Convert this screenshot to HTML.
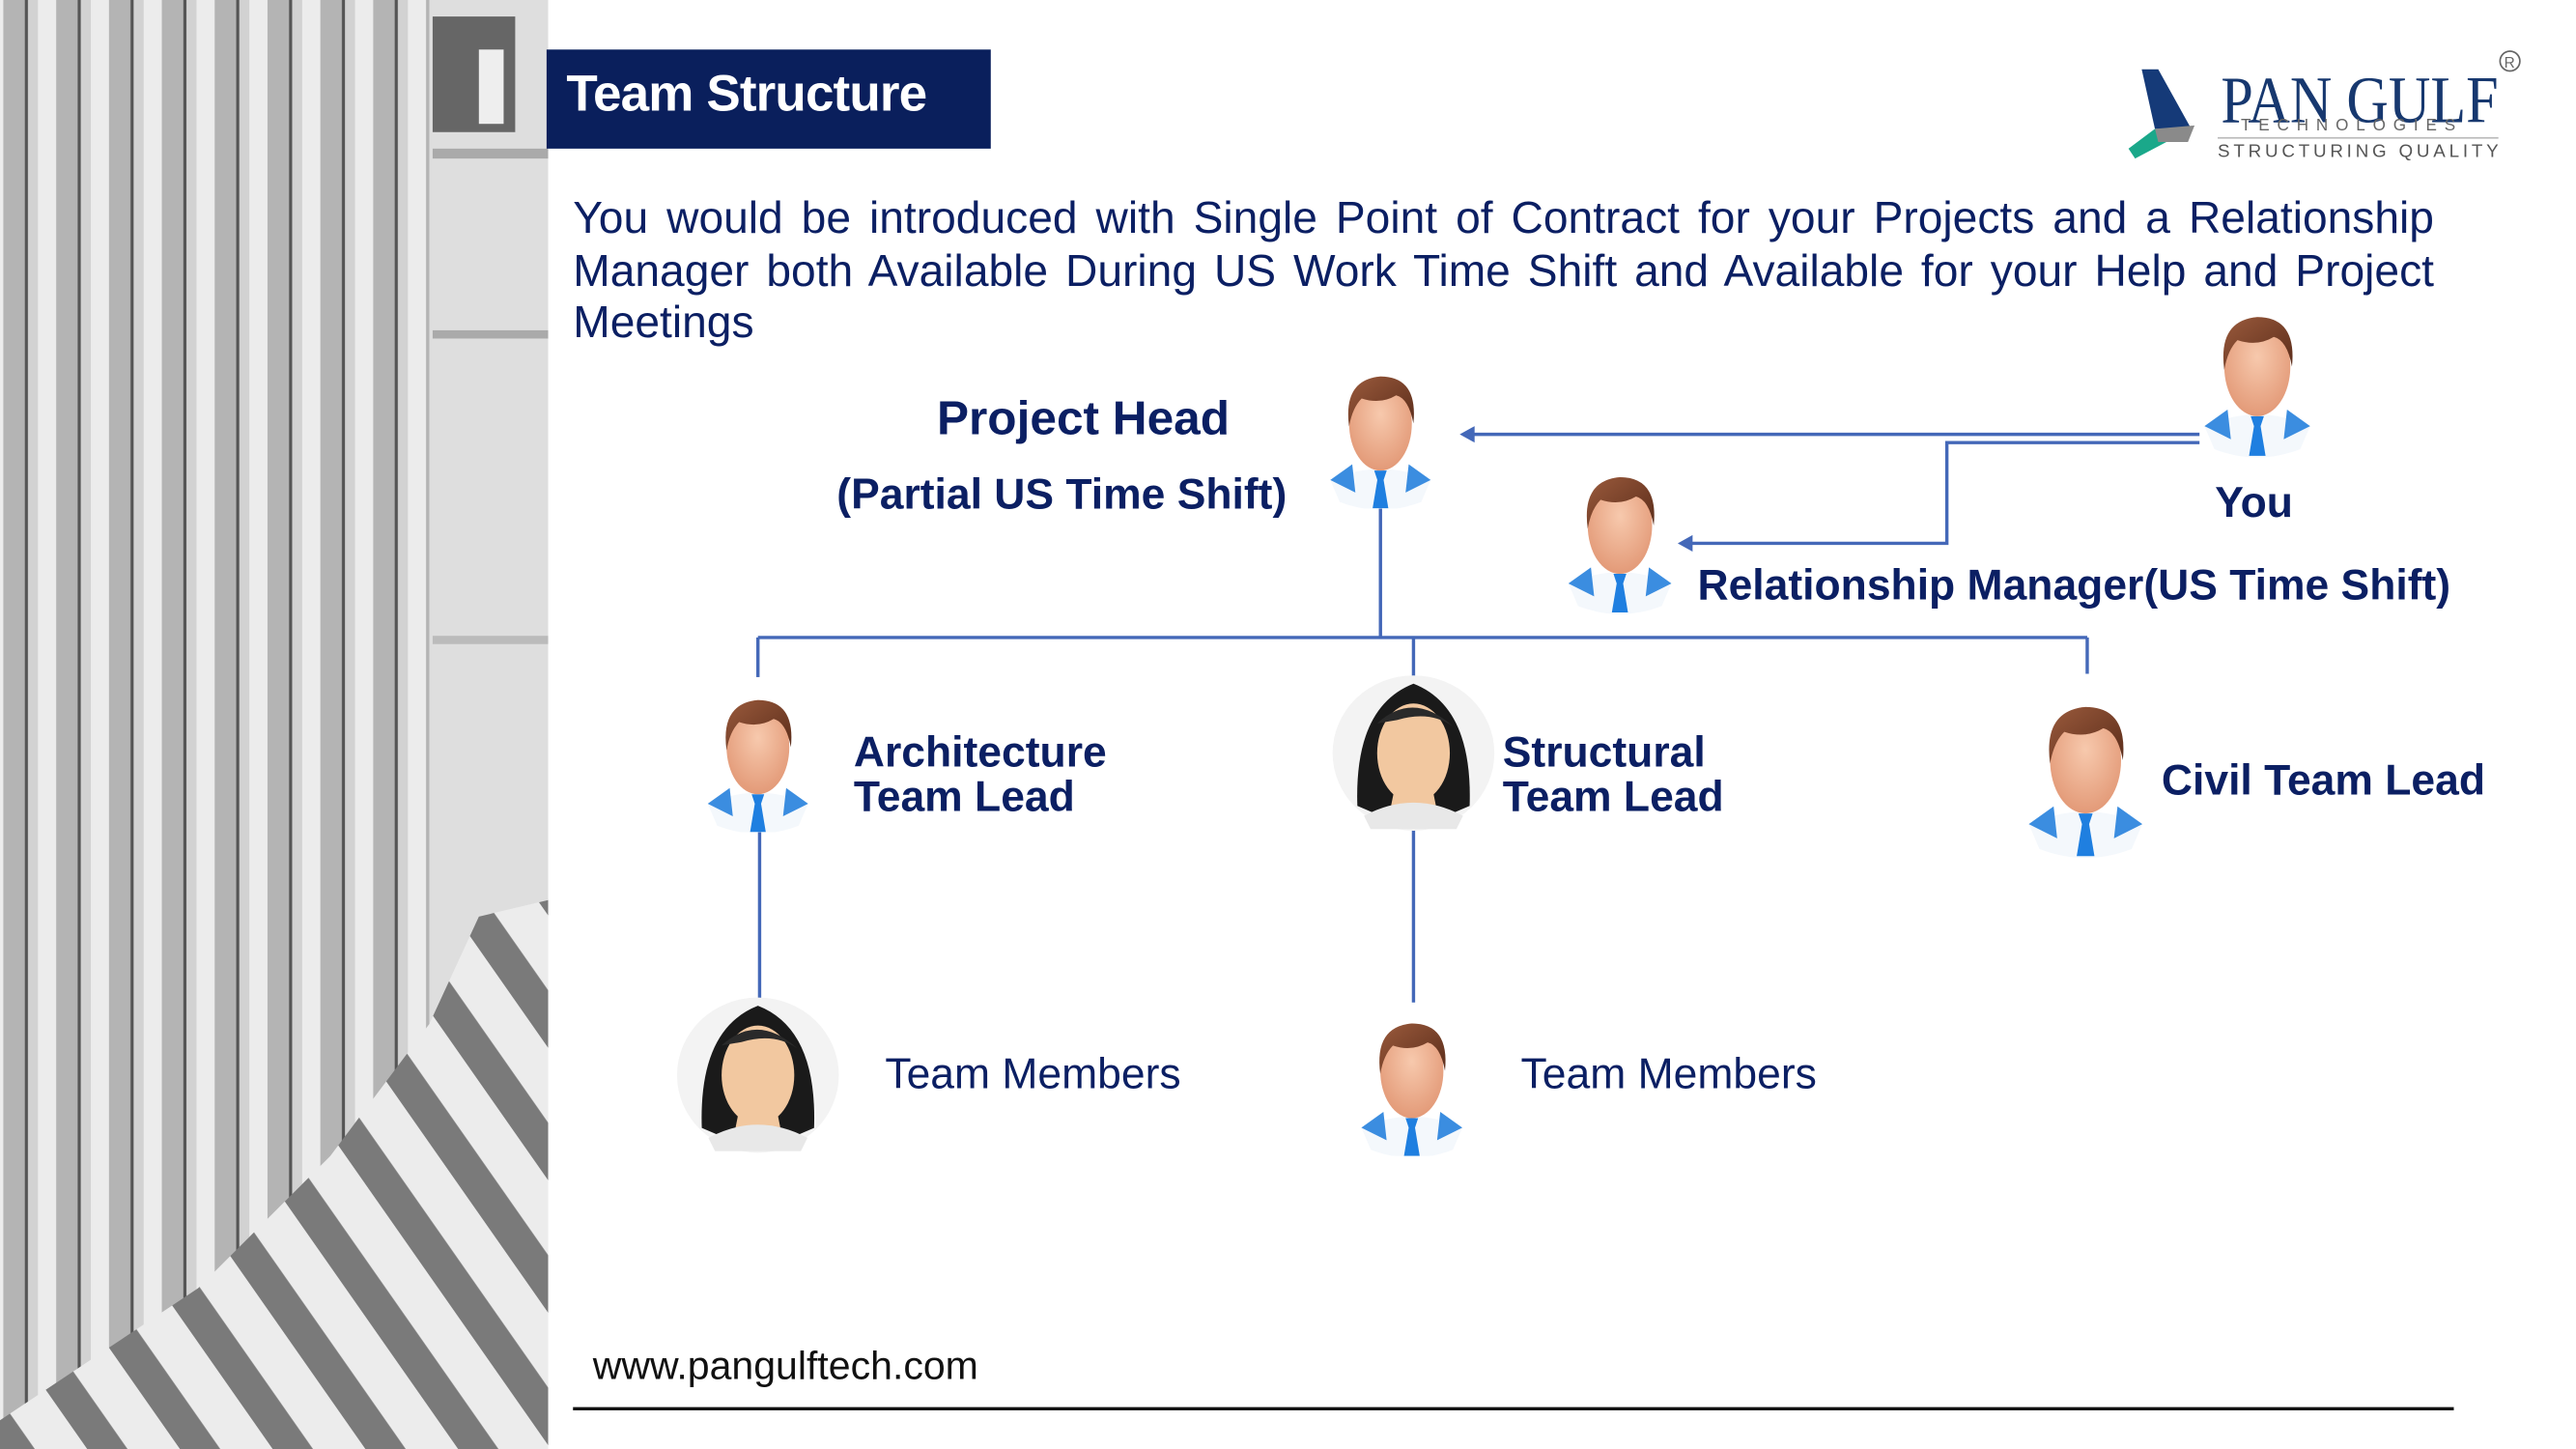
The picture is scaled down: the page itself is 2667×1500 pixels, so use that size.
<!DOCTYPE html>
<html><head><meta charset="utf-8"><style>
html,body{margin:0;padding:0;background:#fff;}
#wrap{width:2667px;height:1500px;overflow:hidden;position:relative;}
#s{width:1560px;height:877.4px;position:absolute;left:0;top:0;transform:scale(1.70962);transform-origin:0 0;font-family:"Liberation Sans",Arial,sans-serif;}
.a{position:absolute;}
.b{font-weight:bold;color:#0b1f63;}
.t{color:#0b1f63;}
</style></head><body><div id="wrap"><div id="s">
<svg class="a" style="left:0;top:0" width="332" height="878" viewBox="0 0 332 878">
<defs>
<linearGradient id="bg" x1="0" x2="1"><stop offset="0" stop-color="#f4f4f4"/><stop offset="1" stop-color="#d6d6d6"/></linearGradient>
<pattern id="vb" width="32" height="10" patternUnits="userSpaceOnUse">
<rect width="32" height="10" fill="#ececec"/><rect x="2" width="13" height="10" fill="#b4b4b4"/><rect x="15" width="2" height="10" fill="#555"/><rect x="17" width="6" height="10" fill="#d2d2d2"/>
</pattern>
<pattern id="st" width="46" height="46" patternUnits="userSpaceOnUse" patternTransform="rotate(-35)">
<rect width="46" height="46" fill="#ececec"/><rect width="20" height="46" fill="#7a7a7a"/>
</pattern>
</defs>
<rect width="332" height="878" fill="url(#bg)"/>
<rect x="0" y="0" width="260" height="878" fill="url(#vb)"/>
<rect x="260" y="0" width="72" height="878" fill="#dedede"/>
<rect x="262" y="10" width="50" height="70" fill="#666"/>
<rect x="290" y="30" width="15" height="45" fill="#eee"/>
<rect x="262" y="90" width="70" height="6" fill="#aaa"/>
<rect x="262" y="200" width="70" height="5" fill="#aaa"/>
<rect x="262" y="385" width="70" height="5" fill="#bbb"/>
<polygon points="0,860 120,780 200,700 260,620 290,555 332,545 332,878 0,878" fill="url(#st)"/>
</svg>

<div class="a" style="left:331px;top:30px;width:269px;height:60px;background:#0a1f5c;"></div>
<div class="a" style="left:343px;top:39px;color:#fff;font-weight:bold;font-size:31px;letter-spacing:-0.5px;">Team Structure</div>

<!-- logo -->
<svg class="a" style="left:1285px;top:28px" width="250" height="75" viewBox="0 0 250 75">
<polygon points="12,14 22,14 42,50 20,50" fill="#153a78"/>
<polygon points="20,50 42,50 8,68 4,62" fill="#1aa88a"/>
<polygon points="20,50 44,48 40,58 22,58" fill="#8a8a8a"/>
<text x="60" y="46" font-family="Liberation Serif,serif" font-size="40" fill="#17386f" textLength="168" lengthAdjust="spacingAndGlyphs">PAN GULF</text>
<text x="72" y="51" font-family="Liberation Sans,sans-serif" font-size="10" fill="#666" textLength="130" lengthAdjust="spacing">TECHNOLOGIES</text>
<rect x="58" y="55" width="170" height="1" fill="#bbb"/>
<text x="58" y="67" font-family="Liberation Sans,sans-serif" font-size="11" fill="#555" textLength="170" lengthAdjust="spacing">STRUCTURING QUALITY</text>
<circle cx="235" cy="9" r="6" fill="none" stroke="#666" stroke-width="1"/><text x="231.5" y="13" font-size="9" fill="#666" font-family="Liberation Sans">R</text>
</svg>

<div class="a t" style="left:347px;top:117px;width:1127px;font-size:27px;line-height:31.6px;text-align:justify;text-align-last:left;">You would be introduced with Single Point of Contract for your Projects and a Relationship Manager both Available During US Work Time Shift and Available for your Help and Project Meetings</div>

<!-- connectors -->
<svg class="a" style="left:0;top:0" width="1560" height="878" viewBox="0 0 1560 878">
<g stroke="#4468b8" stroke-width="2" fill="none">
<line x1="1332" y1="263" x2="890" y2="263"/>
<polyline points="1332,268 1179,268 1179,329 1022,329"/>
<line x1="836" y1="300" x2="836" y2="386"/>
<line x1="459" y1="386" x2="1264" y2="386"/>
<line x1="459" y1="386" x2="459" y2="410"/>
<line x1="856" y1="386" x2="856" y2="410"/>
<line x1="1264" y1="386" x2="1264" y2="408"/>
<line x1="460" y1="500" x2="460" y2="607"/>
<line x1="856" y1="500" x2="856" y2="607"/>
</g>
<polygon points="884,263 893,258 893,268" fill="#4468b8"/>
<polygon points="1016,329 1025,324 1025,334" fill="#4468b8"/>
<line x1="347" y1="853" x2="1486" y2="853" stroke="#111" stroke-width="2"/>
</svg>

<svg width="0" height="0" style="position:absolute"><defs>
<radialGradient id="sk" cx="0.5" cy="0.4" r="0.6"><stop offset="0" stop-color="#f7c9ad"/><stop offset="1" stop-color="#e39a78"/></radialGradient>
<linearGradient id="hr" x1="0" y1="0" x2="1" y2="1"><stop offset="0" stop-color="#9a5a3c"/><stop offset="1" stop-color="#5a2c1a"/></linearGradient>
<symbol id="man" viewBox="0 0 80 90">
<path d="M8,72 Q40,58 72,72 L66,86 Q40,96 14,86 Z" fill="#f4f8fc"/>
<path d="M8,72 L22,62 L24,80 Z" fill="#3b8de0"/><path d="M72,72 L58,62 L56,80 Z" fill="#3b8de0"/>
<path d="M36,66 L44,66 L42,72 L45,90 L35,90 L38,72 Z" fill="#1f7fe0"/>
<ellipse cx="40" cy="36" rx="20" ry="30" fill="url(#sk)"/>
<path d="M20,38 Q16,8 40,6 Q64,6 61,36 Q58,20 50,18 Q40,24 28,20 Q22,26 20,38 Z" fill="url(#hr)"/>
</symbol>
<symbol id="wom" viewBox="0 0 100 96">
<ellipse cx="50" cy="48" rx="49" ry="47" fill="#f3f3f3"/>
<path d="M16,80 Q14,20 50,6 Q86,20 84,80 L70,86 L30,86 Z" fill="#1a1a1a"/>
<ellipse cx="50" cy="48" rx="22" ry="30" fill="#f2c8a0"/>
<path d="M38,72 L62,72 L66,92 L34,92 Z" fill="#f2c8a0"/>
<path d="M20,86 Q50,70 80,86 L76,94 L24,94 Z" fill="#e8e8e8"/>
<path d="M28,30 Q50,10 74,32 Q60,22 40,28 Z" fill="#2a2a2a"/>
</symbol>
</defs></svg>

<svg class="a" style="left:798px;top:222px" width="76" height="86"><use href="#man" width="76" height="86"/></svg>
<svg class="a" style="left:1327px;top:184px" width="80" height="94"><use href="#man" width="80" height="94"/></svg>
<svg class="a" style="left:942px;top:280px" width="78" height="94"><use href="#man" width="78" height="94"/></svg>
<svg class="a" style="left:421px;top:418px" width="76" height="86"><use href="#man" width="76" height="86"/></svg>
<svg class="a" style="left:1220px;top:420px" width="86" height="100"><use href="#man" width="86" height="100"/></svg>
<svg class="a" style="left:816px;top:614px" width="78" height="86"><use href="#man" width="78" height="86"/></svg>
<svg class="a" style="left:806px;top:408px" width="100" height="96"><use href="#wom" width="100" height="96"/></svg>
<svg class="a" style="left:409px;top:603px" width="100" height="96"><use href="#wom" width="100" height="96"/></svg>

<div class="a b" style="left:536px;top:238px;width:240px;text-align:center;font-size:29px;">Project Head</div>
<div class="a b" style="left:490px;top:284px;width:306px;text-align:center;font-size:26px;">(Partial US Time Shift)</div>
<div class="a b" style="left:1325px;top:289px;width:80px;text-align:center;font-size:26px;">You</div>
<div class="a b" style="left:1028px;top:339px;font-size:26px;white-space:nowrap;">Relationship Manager(US Time Shift)</div>
<div class="a b" style="left:517px;top:442px;font-size:26px;line-height:27px;">Architecture<br>Team Lead</div>
<div class="a b" style="left:910px;top:442px;font-size:26px;line-height:27px;">Structural<br>Team Lead</div>
<div class="a b" style="left:1309px;top:457px;font-size:26px;white-space:nowrap;">Civil Team Lead</div>
<div class="a t" style="left:536px;top:635px;font-size:26px;">Team Members</div>
<div class="a t" style="left:921px;top:635px;font-size:26px;">Team Members</div>
<div class="a" style="left:359px;top:814px;font-size:24px;color:#111;">www.pangulftech.com</div>
</div></div></body></html>
